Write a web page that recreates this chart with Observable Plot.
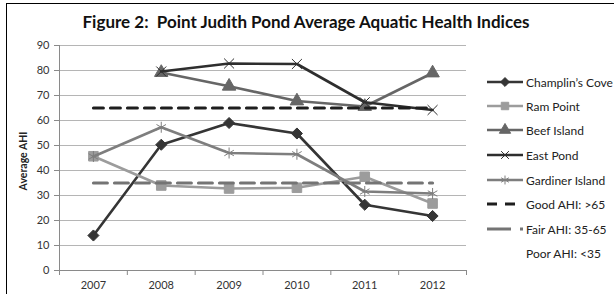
<!DOCTYPE html>
<html>
<head>
<meta charset="utf-8">
<script src="https://cdn.jsdelivr.net/npm/d3@7"></script>
<script src="https://cdn.jsdelivr.net/npm/@observablehq/plot@0.6"></script>
<style>
  body { margin: 0; background: #fff; }
  #wrap { position: relative; width: 614px; height: 294px; overflow: hidden; font-family: Lato, "Open Sans", sans-serif; background: #fff; }
  #frame { position: absolute; left: 6px; top: 3px; right: -4px; bottom: -4px; border-left: 1.5px solid #000; border-top: 1.5px solid #000; pointer-events: none; }
  #chart { position: absolute; left: 0; top: 0; }
  #title { position: absolute; left: 0; width: 612px; top: 11px; text-align: center; font-weight: bold; font-size: 17px; color: #111; white-space: pre; }
  #ylab { position: absolute; left: 23px; top: 161px; transform: translate(-50%, -50%) rotate(-90deg); font-weight: bold; font-size: 10.5px; color: #222; white-space: nowrap; }
  .li { position: absolute; left: 487px; height: 16px; display: flex; align-items: center; font-size: 12px; color: #222; white-space: nowrap; }
  .li svg { display: block; margin-right: 2px; }
</style>
</head>
<body>
<div id="wrap">
  <div id="chart"></div>
  <div id="title">Figure 2:  Point Judith Pond Average Aquatic Health Indices</div>
  <div id="ylab">Average AHI</div>
  <div id="legend"></div>
  <div id="frame"></div>
</div>
<script>
// ---- data ----
const years = [2007, 2008, 2009, 2010, 2011, 2012];
const yTicks = [0, 10, 20, 30, 40, 50, 60, 70, 80, 90];
const champlinsCove = [14, 50.3, 59, 54.8, 26.3, 21.8];
const ramPoint = [45.7, 34, 32.8, 33.1, 37.5, 26.8];
const beefIsland = [null, 79.2, 73.7, 67.8, 65.6, 79];
const eastPond = [null, 79.6, 82.8, 82.6, 67.3, 64.2];
const gardinerIsland = [45.6, 57.3, 47, 46.5, 31.6, 30.8];
const goodAHI = 65;
const fairAHI = 35;
const seriesNames = ["Champlin\u2019s Cove", "Ram Point", "Beef Island", "East Pond", "Gardiner Island"];
const thresholdNames = ["Good AHI: >65", "Fair AHI: 35-65", "Poor AHI:  <35"];

// ---- styles ----
const seriesStyle = [
  {values: champlinsCove, color: "#353535", symbol: "diamond2", r: 5, filled: true, lr: 4},
  {values: ramPoint, color: "#9c9c9c", symbol: "square", r: 5.4, filled: true, lr: 4.2},
  {values: beefIsland, color: "#666666", symbol: "triangle", r: 5, filled: true, lr: 4.2},
  {values: eastPond, color: "#2e2e2e", symbol: "times", r: 4.6, filled: false, lr: 3.6},
  {values: gardinerIsland, color: "#7e7e7e", symbol: "asterisk", r: 5.2, filled: false, lr: 4.2}
];
const series = seriesStyle.map((s, k) => ({...s, name: seriesNames[k],
  rows: years.map((yr, i) => ({year: yr, value: s.values[i]})).filter(d => d.value != null)}));

const bounds = d3.range(years.length + 1).map(i => years[0] - 0.5 + i);
const goodRows = [{year: years[0], value: goodAHI}, {year: years[years.length - 1], value: goodAHI}];
const fairRows = [{year: years[0], value: fairAHI}, {year: years[years.length - 1], value: fairAHI}];

const marks = [
  Plot.gridY(yTicks, {stroke: "#b5b5b5", strokeOpacity: 1}),
  Plot.ruleY([0], {stroke: "#8a8a8a"}),
  Plot.ruleX([bounds[0]], {y1: 0, y2: 90, stroke: "#8a8a8a"}),
  Plot.axisY(yTicks, {tickSize: 5, tickPadding: 5, stroke: "#8a8a8a", fill: "#333", label: null}),
  Plot.axisX(years, {tickSize: 0, tickPadding: 11, tickFormat: d => String(d), fill: "#333", label: null}),
  Plot.axisX(bounds, {tickSize: 5, tickFormat: () => "", stroke: "#8a8a8a", label: null})
];
for (const s of series) {
  marks.push(Plot.line(s.rows, {x: "year", y: "value", stroke: s.color, strokeWidth: 2.6}));
  marks.push(Plot.dot(s.rows, {x: "year", y: "value", symbol: () => s.symbol, r: s.r,
    fill: s.filled ? s.color : "none", stroke: s.color, strokeWidth: 1}));
}
marks.push(Plot.line(goodRows, {x: "year", y: "value", stroke: "#1e1e1e", strokeWidth: 3, strokeDasharray: "10,7"}));
marks.push(Plot.line(fairRows, {x: "year", y: "value", stroke: "#747474", strokeWidth: 3, strokeDasharray: "14,7"}));

const plot = Plot.plot({
  width: 614, height: 294,
  marginLeft: 59, marginRight: 148, marginTop: 45, marginBottom: 24,
  x: {domain: [bounds[0], bounds[bounds.length - 1]]},
  y: {domain: [0, 90]},
  symbol: {type: "identity"},
  style: {fontFamily: "Lato, 'Open Sans', sans-serif", fontSize: "11px", background: "transparent", color: "#333"},
  marks
});
document.getElementById("chart").appendChild(plot);

// ---- legend ----
const legend = document.getElementById("legend");
const symMap = {diamond2: d3.symbolDiamond2, square: d3.symbolSquare, triangle: d3.symbolTriangle, times: d3.symbolTimes, asterisk: d3.symbolAsterisk};
const legendY = [82, 106, 130, 155, 180, 204, 229, 253];
function addItem(i, svgInner, label) {
  const div = document.createElement("div");
  div.className = "li";
  div.style.top = (legendY[i] - 8) + "px";
  div.innerHTML = `<svg width="37" height="16">${svgInner}</svg><span>${label}</span>`;
  legend.appendChild(div);
}
series.forEach((s, i) => {
  const path = d3.symbol(symMap[s.symbol], Math.PI * s.lr * s.lr)();
  addItem(i,
    `<line x1="0" x2="36" y1="8" y2="8" stroke="${s.color}" stroke-width="2.6"/>` +
    `<path d="${path}" transform="translate(18,8)" fill="${s.filled ? s.color : "none"}" stroke="${s.color}" stroke-width="1"/>`,
    s.name);
});
addItem(5, `<line x1="0" x2="36" y1="8" y2="8" stroke="#1e1e1e" stroke-width="3" stroke-dasharray="10,8"/>`, thresholdNames[0]);
addItem(6, `<line x1="0" x2="36" y1="8" y2="8" stroke="#747474" stroke-width="3" stroke-dasharray="24,9"/>`, thresholdNames[1]);
addItem(7, ``, thresholdNames[2]);
</script>
</body>
</html>
